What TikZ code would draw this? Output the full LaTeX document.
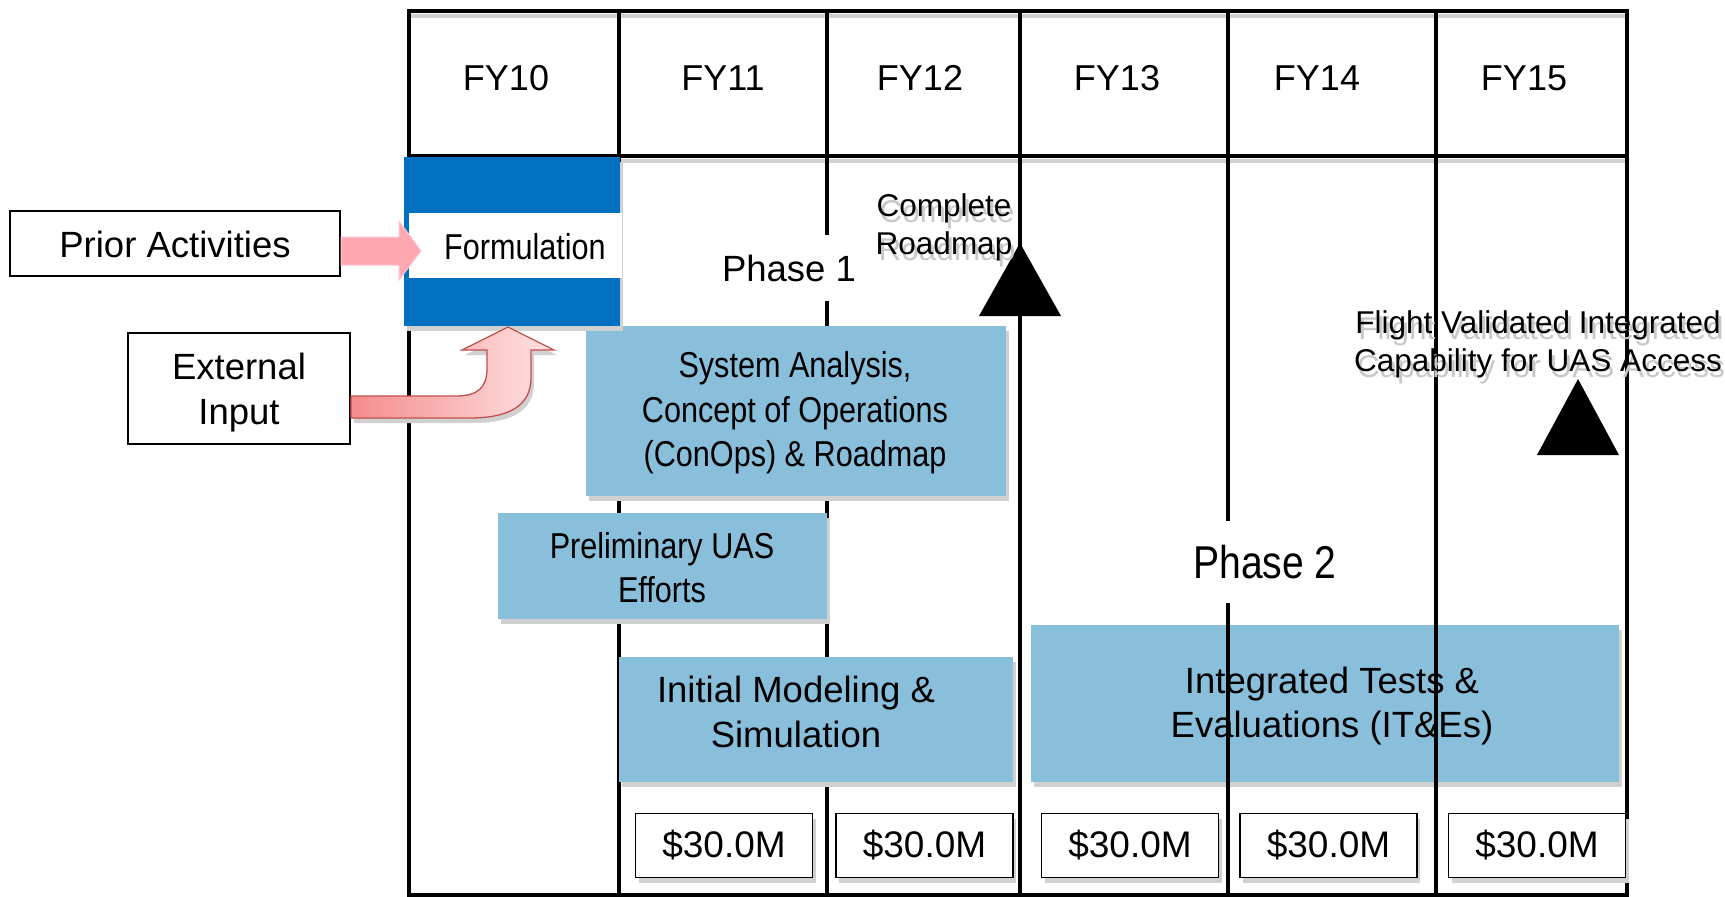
\documentclass[tikz,border=0pt]{standalone}
\usepackage{fontspec}
\setmainfont{Liberation Sans}
\newfontfamily\narrowfont[FakeStretch=0.85]{Liberation Sans}
\usetikzlibrary{calc,shadows}
\definecolor{fblue}{RGB}{0,112,192}
\definecolor{lblue}{RGB}{137,191,219}
\definecolor{pinkfill}{RGB}{255,168,176}
\definecolor{pinkline}{RGB}{255,196,214}
\definecolor{arrowred}{RGB}{192,80,77}
\definecolor{arrowdark}{RGB}{245,140,140}
\definecolor{arrowlight}{RGB}{255,228,228}
\definecolor{shadowgray}{RGB}{208,208,208}
\definecolor{textshadow}{RGB}{200,200,200}
\newcommand{\fsz}[2]{\fontsize{#1}{#2}\selectfont}
\begin{document}
\begin{tikzpicture}[x=1pt,y=-1pt,
  gridline/.style={line width=3.6pt, black},
  hline/.style={line width=4pt, black},
  hshadow/.style={line width=4pt, shadowgray},
  boxshadow/.style={general shadow={shadow xshift=3pt, shadow yshift=-5pt, fill=shadowgray}},
  lbox/.style={rectangle, fill=lblue, inner sep=0pt, boxshadow},
  fytext/.style={font=\fsz{36}{40}, inner sep=0pt},
  plaintxt/.style={font=\fsz{36.5}{44.5}, align=center, inner sep=0pt},
  narrowtxt/.style={font=\narrowfont\fsz{36}{44.5}, align=center, inner sep=0pt},
  smalltxt/.style={font=\fsz{31.5}{38}, align=center, inner sep=0pt},
  sidebox/.style={rectangle, draw=black, line width=2pt, fill=white, inner sep=0pt},
  money/.style={rectangle, draw=black, line width=1.5pt, fill=white, inner sep=0pt,
    minimum width=177pt, minimum height=64pt, font=\fsz{37}{40}, boxshadow},
  phasetxt/.style={fill=white, inner xsep=3pt},
  marker/.style={fill=black}
]
\useasboundingbox (0,0) rectangle (1725,897);

% Integrated tests box (under the grid lines)
\node[lbox, minimum width=588pt, minimum height=157pt] (itbox) at (1325,703.5) {};
\node[plaintxt] (ittext) at (1332,706) {Integrated Tests \&\\Evaluations (IT\&Es)};

% grid shadows
\draw[hshadow] (411,16) -- (1629,16);
\draw[hshadow] (411,161) -- (1629,161);

% grid lines
\draw[hline] (407,11) -- (1629,11);
\draw[hline] (407,156) -- (1629,156);
\draw[hline] (407,895) -- (1629,895);
\foreach \gx in {409,619,827,1020,1228,1436,1627}
  \draw[gridline] (\gx,11) -- (\gx,895);

% header labels
\node[fytext] (fy10) at (506,78) {FY10};
\node[fytext] (fy11) at (723,78) {FY11};
\node[fytext] (fy12) at (920,78) {FY12};
\node[fytext] (fy13) at (1117,78) {FY13};
\node[fytext] (fy14) at (1317,78) {FY14};
\node[fytext] (fy15) at (1524,78) {FY15};

% activity boxes
\node[lbox, minimum width=420pt, minimum height=170pt] (sabox) at (796,411) {};
\node[narrowtxt] (satext) at (795,413) {System Analysis,\\Concept of Operations\\(ConOps) \& Roadmap};

\node[lbox, minimum width=329pt, minimum height=106pt] (prbox) at (662.5,566) {};
\node[narrowtxt] (prtext) at (662,567.5) {Preliminary UAS\\Efforts};

\node[lbox, minimum width=394pt, minimum height=125pt] (imbox) at (816,719.5) {};
\node[plaintxt] (imtext) at (796,712) {Initial Modeling \&\\Simulation};

% formulation
\node[rectangle, fill=fblue, inner sep=0pt, minimum width=216pt, minimum height=169pt, boxshadow] (formbox) at (512,241.5) {};
\node[rectangle, fill=white, inner sep=0pt, minimum width=213pt, minimum height=65pt] (formband) at (515.5,245.5) {};
\node[narrowtxt] (formtext) at (525,247) {Formulation};

% side boxes
\node[sidebox, minimum width=330pt, minimum height=65pt] (prior) at (175,243.5) {};
\node[plaintxt, font=\fsz{36.5}{44.5}] (priortext) at (175,244) {Prior Activities};
\node[sidebox, minimum width=222pt, minimum height=111pt] (ext) at (239,388.5) {};
\node[plaintxt, font=\fsz{36.5}{45}] (exttext) at (239,393) {External\\Input};

% prior arrow
\coordinate (pa0) at (prior.east |- 0,251);
\draw[fill=pinkfill, draw=pinkline, line width=1pt]
  ($(pa0)+(0,-14)$) -- (399,237) -- (399,221) -- (421,251) -- (399,280) -- (399,265) -- ($(pa0)+(0,14)$) -- cycle;

% curved external-input arrow
\coordinate (ea0) at (ext.east |- 0,396);
\draw[boxshadow, left color=arrowdark, right color=arrowlight, draw=arrowred, line width=1.3pt]
  (ea0) -- (455,396) .. controls (478,396) and (487,388) .. (487,368) -- (487,350) -- (462,350)
  -- (508,327) -- (554,350) -- (531,350) -- (531,378)
  .. controls (531,405) and (510,418) .. (470,418) -- ($(ea0)+(0,22)$) -- cycle;

% phases
\node[phasetxt, font=\fsz{36.5}{40}, inner ysep=20pt] (phase1) at (789,268) {Phase 1};
\node[phasetxt, font=\narrowfont\fsz{46}{50}, inner ysep=24pt] (phase2) at (1265,562) {Phase 2};

% milestones
\fill[marker] (979,316) -- (1020,243) -- (1061,316) -- cycle;
\node[smalltxt, text=textshadow] (crshadow) at (947,233) {Complete\\Roadmap};
\node[smalltxt] (crtext) at (944,227) {Complete\\Roadmap};

\fill[marker] (1537,455) -- (1578,379) -- (1619,455) -- cycle;
\node[smalltxt, text=textshadow] (fvshadow) at (1541,350) {Flight Validated Integrated\\Capability for UAS Access};
\node[smalltxt] (fvtext) at (1538,344) {Flight Validated Integrated\\Capability for UAS Access};

% funding
\node[money] (m11) at (724,845.5) {\$30.0M};
\node[money] (m12) at (924.5,845.5) {\$30.0M};
\node[money] (m13) at (1130,845.5) {\$30.0M};
\node[money] (m14) at (1328.5,845.5) {\$30.0M};
\node[money] (m15) at (1537,845.5) {\$30.0M};
\end{tikzpicture}
\end{document}
